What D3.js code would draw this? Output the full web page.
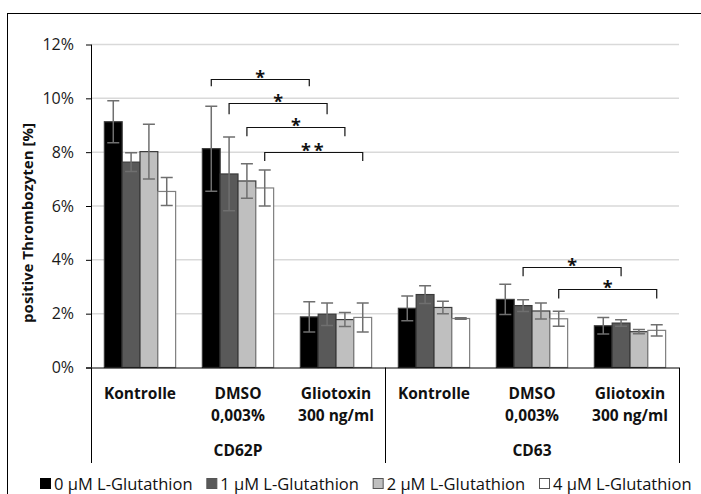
<!DOCTYPE html>
<html>
<head>
<meta charset="utf-8">
<script src="https://cdn.jsdelivr.net/npm/d3@7"></script>
<style>
  html, body { margin: 0; padding: 0; background: #fff; }
  svg { display: block; font-family: "Open Sans", "Noto Sans", "DejaVu Sans", sans-serif; }
</style>
</head>
<body>
<svg id="chart" width="701" height="494"></svg>
<script>
// Category structure: two markers, three treatments each
const markers = ["CD62P", "CD63"];
const treatments = [["Kontrolle"], ["DMSO", "0,003%"], ["Gliotoxin", "300 ng/ml"]];
const seriesNames = ["0 µM L-Glutathion", "1 µM L-Glutathion", "2 µM L-Glutathion", "4 µM L-Glutathion"];
const seriesColors = ["#000000", "#595959", "#bfbfbf", "#ffffff"];

// Mean values (%) per series, in group order:
// CD62P Kontrolle, DMSO, Gliotoxin, CD63 Kontrolle, DMSO, Gliotoxin
const glu0 = [9.13, 8.13, 1.88, 2.20, 2.53, 1.55];
const glu1 = [7.63, 7.19, 1.98, 2.71, 2.30, 1.65];
const glu2 = [8.02, 6.93, 1.78, 2.23, 2.10, 1.33];
const glu4 = [6.54, 6.67, 1.86, 1.82, 1.81, 1.38];

// Standard deviations (%)
const err0 = [0.78, 1.58, 0.56, 0.46, 0.56, 0.31];
const err1 = [0.35, 1.37, 0.42, 0.33, 0.22, 0.12];
const err2 = [1.02, 0.64, 0.26, 0.23, 0.30, 0.08];
const err4 = [0.52, 0.67, 0.54, 0.03, 0.28, 0.21];

const yTicks = [0, 2, 4, 6, 8, 10, 12];

// Significance brackets: [group, series] -> [group, series], bar level (%), leg end (%), label
const sigFrom  = [[1, 0], [1, 1], [1, 2], [1, 3], [4, 1], [4, 3]];
const sigTo    = [[2, 0], [2, 1], [2, 2], [2, 3], [5, 1], [5, 3]];
const sigLevel = [10.72, 9.81, 8.93, 8.01, 3.75, 2.92];
const sigLeg   = [10.45, 9.41, 8.59, 7.67, 3.39, 2.56];
const sigLabel = ["*", "*", "*", "**", "*", "*"];

const values = [glu0, glu1, glu2, glu4];
const errors = [err0, err1, err2, err4];
const groups = d3.range(markers.length * treatments.length);

const svg = d3.select("#chart");
const plot = { left: 91, right: 679, top: 44.5, bottom: 367.5 };

// Outer chart frame
svg.append("rect")
  .attr("x", 7.5).attr("y", 13.5)
  .attr("width", 720).attr("height", 520)
  .attr("fill", "none").attr("stroke", "#000").attr("stroke-width", 1);

const x = d3.scaleBand().domain(groups).range([plot.left, plot.right]).padding(0);
const xs = d3.scaleBand().domain(d3.range(seriesNames.length))
  .range([0, x.bandwidth()]).paddingInner(0).paddingOuter(0.75);
const y = d3.scaleLinear().domain([0, 12]).range([plot.bottom, plot.top]);

// Gridlines
svg.append("g").selectAll("line").data(yTicks.filter(d => d > 0)).join("line")
  .attr("x1", plot.left).attr("x2", plot.right)
  .attr("y1", d => y(d)).attr("y2", d => y(d))
  .attr("stroke", "#d9d9d9").attr("stroke-width", 1.5);

// Y axis
const yAxis = d3.axisLeft(y).tickValues(yTicks).tickFormat(d => d + "%").tickSize(5).tickPadding(12);
const yg = svg.append("g").attr("transform", `translate(${plot.left},0)`).call(yAxis);
yg.select(".domain").attr("stroke", "#000").attr("d", `M0.5,${plot.top}V${plot.bottom}`);
yg.selectAll(".tick line").attr("stroke", "#000");
yg.selectAll("text").attr("font-size", 16).attr("fill", "#1a1a1a")
  .attr("font-family", "'Open Sans', sans-serif");

// Y axis title
svg.append("text")
  .attr("transform", "translate(33,223) rotate(-90)")
  .attr("text-anchor", "middle")
  .attr("font-size", 15).attr("font-weight", "bold").attr("fill", "#111")
  .text("positive Thrombozyten [%]");

// Bars
const barG = svg.append("g");
seriesNames.forEach((name, s) => {
  barG.append("g").selectAll("rect").data(groups).join("rect")
    .attr("x", g => x(g) + xs(s))
    .attr("y", g => y(values[s][g]))
    .attr("width", xs.bandwidth())
    .attr("height", g => y(0) - y(values[s][g]))
    .attr("fill", seriesColors[s])
    .attr("stroke", s === 3 ? "#7f7f7f" : "#3a3a3a")
    .attr("stroke-width", 1.2);
});

// Error bars
const errG = svg.append("g").attr("stroke", "#6f6f6f").attr("stroke-width", 1.5).attr("fill", "none");
seriesNames.forEach((name, s) => {
  groups.forEach(g => {
    const cx = x(g) + xs(s) + xs.bandwidth() / 2;
    const hi = y(values[s][g] + errors[s][g]);
    const lo = y(values[s][g] - errors[s][g]);
    errG.append("path").attr("d", `M${cx},${hi}V${lo}M${cx - 6},${hi}H${cx + 6}M${cx - 6},${lo}H${cx + 6}`);
  });
});

// X axis line
svg.append("line")
  .attr("x1", plot.left - 5).attr("x2", plot.right)
  .attr("y1", plot.bottom + 0.5).attr("y2", plot.bottom + 0.5)
  .attr("stroke", "#000").attr("stroke-width", 1);

// Multi-level category axis: separators between markers
const sepBottom = 463;
const seps = [0, treatments.length, groups.length];
svg.append("g").selectAll("line").data(seps).join("line")
  .attr("x1", d => (d < groups.length ? x(d) : plot.right) + 0.5)
  .attr("x2", d => (d < groups.length ? x(d) : plot.right) + 0.5)
  .attr("y1", plot.bottom).attr("y2", sepBottom)
  .attr("stroke", "#000").attr("stroke-width", 1);

// Treatment labels
const catG = svg.append("g").attr("font-size", 15.5).attr("font-weight", "bold").attr("fill", "#111").attr("text-anchor", "middle");
groups.forEach(g => {
  const lines = treatments[g % treatments.length];
  const cx = x(g) + x.bandwidth() / 2;
  const t = catG.append("text").attr("x", cx).attr("y", 399);
  lines.forEach((ln, i) => t.append("tspan").attr("x", cx).attr("dy", i === 0 ? 0 : 22).text(ln));
});

// Marker labels
markers.forEach((m, i) => {
  const g0 = i * treatments.length, g1 = g0 + treatments.length - 1;
  catG.append("text")
    .attr("x", (x(g0) + x(g1) + x.bandwidth()) / 2)
    .attr("y", 456)
    .text(m);
});

// Significance brackets
const barCenter = ([g, s]) => x(g) + xs(s) + xs.bandwidth() / 2;
const sigG = svg.append("g");
sigLabel.forEach((lab, i) => {
  const x1 = barCenter(sigFrom[i]), x2 = barCenter(sigTo[i]);
  const yl = Math.round(y(sigLevel[i])) + 0.5, yb = y(sigLeg[i]);
  sigG.append("path")
    .attr("d", `M${x1},${yb}V${yl}H${x2}V${yb}`)
    .attr("fill", "none").attr("stroke", "#111").attr("stroke-width", 1.2);
  sigG.append("text")
    .attr("x", (x1 + x2) / 2).attr("y", yl + 4)
    .attr("text-anchor", "middle")
    .attr("font-size", 18).attr("font-weight", "bold").attr("fill", "#111")
    .attr("letter-spacing", lab.length > 1 ? 3 : 0)
    .text(lab);
});

// Legend
const legG = svg.append("g").attr("font-size", 16.5).attr("fill", "#111");
const legX = d3.scalePoint().domain(d3.range(seriesNames.length)).range([40, 539]);
seriesNames.forEach((name, s) => {
  const gx = legX(s);
  legG.append("rect")
    .attr("x", gx + 0.5).attr("y", 478.5).attr("width", 10).attr("height", 10)
    .attr("fill", seriesColors[s])
    .attr("stroke", s === 0 ? "#000" : "#555").attr("stroke-width", 1);
  legG.append("text").attr("x", gx + 14).attr("y", 490).text(name);
});
</script>
</body>
</html>
